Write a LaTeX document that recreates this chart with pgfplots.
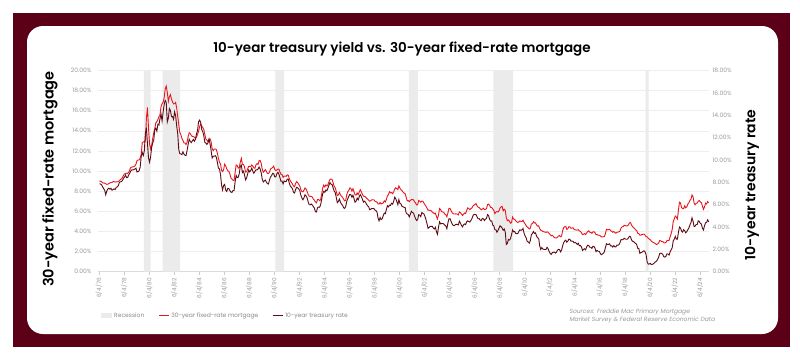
\documentclass[border=0pt]{standalone}
\usepackage{pgfplots}
\pgfplotsset{compat=1.18}
\usepackage{pgfplotstable}
\usepackage{fontspec}
\setmainfont{Poppins}
\IfFontExistsTF{Poppins SemiBold}{\newfontfamily\titlefont{Poppins SemiBold}}{\newcommand\titlefont{\bfseries}}
\IfFontExistsTF{Poppins SemiBold}{\newfontfamily\labfont{Poppins SemiBold}}{\newcommand\labfont{\bfseries}}
\newcommand\lightfont{}
\definecolor{frame}{HTML}{5C0018}
\definecolor{mred}{HTML}{E8161D}
\definecolor{tdark}{HTML}{5E0B14}
\definecolor{recg}{HTML}{EBEBEB}
\definecolor{tickg}{HTML}{999999}
\definecolor{gridg}{HTML}{EEEEEE}
\definecolor{legg}{HTML}{8A8A8A}

% monthly averages, Jun 1976 - Feb 2025: m = 30-yr mortgage, t = 10-yr treasury
\pgfplotstableread[row sep=\\]{
m t\\
9.00 7.86\\ 8.99 7.83\\ 8.93 7.77\\ 8.82 7.59\\ 8.80 7.41\\ 8.79 7.29\\ 8.72 6.87\\
8.67 7.21\\ 8.69 7.39\\ 8.75 7.46\\ 8.82 7.37\\ 8.86 7.46\\ 8.86 7.28\\ 8.94 7.33\\ 8.94 7.40\\ 8.90 7.34\\ 8.92 7.52\\ 8.92 7.58\\ 8.96 7.69\\
9.02 7.96\\ 9.15 8.03\\ 9.20 8.04\\ 9.36 8.15\\ 9.57 8.35\\ 9.71 8.46\\ 9.74 8.64\\ 9.79 8.41\\ 9.76 8.42\\ 9.86 8.64\\ 10.11 8.81\\ 10.35 9.01\\
10.39 9.10\\ 10.41 9.10\\ 10.43 9.12\\ 10.50 9.18\\ 10.69 9.25\\ 11.04 8.91\\ 11.09 8.95\\ 11.09 9.03\\ 11.30 9.33\\ 11.64 10.30\\ 12.83 10.65\\ 12.90 10.39\\
12.88 10.80\\ 13.04 12.41\\ 15.28 12.75\\ 16.32 11.47\\ 14.26 10.18\\ 12.71 9.78\\ 12.19 10.25\\ 12.56 11.10\\ 13.20 11.51\\ 13.79 11.75\\ 14.21 12.68\\ 14.79 12.84\\
14.90 12.57\\ 15.13 13.19\\ 15.40 13.12\\ 15.58 13.68\\ 16.40 14.10\\ 16.70 13.47\\ 16.83 14.28\\ 17.29 14.94\\ 18.16 15.32\\ 18.45 15.15\\ 17.83 13.39\\ 16.92 13.72\\
17.40 14.59\\ 17.60 14.43\\ 17.16 13.86\\ 16.89 13.87\\ 16.68 13.62\\ 16.70 14.30\\ 16.82 13.95\\ 16.27 13.06\\ 15.43 12.34\\ 14.61 10.91\\ 13.83 10.55\\ 13.62 10.54\\
13.25 10.46\\ 13.04 10.72\\ 12.80 10.51\\ 12.78 10.40\\ 12.63 10.38\\ 12.87 10.85\\ 13.42 11.38\\ 13.81 11.85\\ 13.73 11.65\\ 13.54 11.54\\ 13.44 11.69\\ 13.42 11.83\\
13.37 11.67\\ 13.23 11.84\\ 13.39 12.32\\ 13.65 12.63\\ 13.94 13.41\\ 14.42 13.56\\ 14.67 13.36\\ 14.47 12.72\\ 14.35 12.52\\ 14.13 12.16\\ 13.64 11.57\\ 13.18 11.50\\
13.08 11.38\\ 12.92 11.51\\ 13.17 11.86\\ 13.20 11.43\\ 12.91 10.85\\ 12.22 10.16\\ 12.03 10.31\\ 12.19 10.33\\ 12.19 10.37\\ 12.14 10.24\\ 11.78 9.78\\ 11.26 9.26\\
10.88 9.19\\ 10.71 8.70\\ 10.08 7.78\\ 9.94 7.30\\ 10.14 7.71\\ 10.68 7.80\\ 10.51 7.30\\ 10.20 7.17\\ 10.01 7.45\\ 9.98 7.43\\ 9.70 7.25\\ 9.32 7.11\\
9.20 7.08\\ 9.08 7.25\\ 9.04 7.25\\ 9.83 8.02\\ 10.60 8.61\\ 10.54 8.40\\ 10.28 8.45\\ 10.33 8.76\\ 10.89 9.42\\ 11.26 9.52\\ 10.65 8.86\\ 10.65 8.99\\
10.43 8.67\\ 9.89 8.21\\ 9.93 8.37\\ 10.20 8.72\\ 10.46 9.09\\ 10.46 8.92\\ 10.43 9.06\\ 10.60 9.26\\ 10.48 8.98\\ 10.30 8.80\\ 10.27 8.96\\ 10.61 9.11\\
10.73 9.09\\ 10.65 9.17\\ 11.03 9.36\\ 11.05 9.18\\ 10.77 8.86\\ 10.20 8.28\\ 9.88 8.02\\ 9.99 8.11\\ 10.13 8.19\\ 9.95 8.01\\ 9.77 7.87\\ 9.74 7.84\\
9.90 8.21\\ 10.20 8.47\\ 10.27 8.59\\ 10.37 8.79\\ 10.48 8.76\\ 10.16 8.48\\ 10.04 8.47\\ 10.10 8.75\\ 10.18 8.89\\ 10.18 8.72\\ 9.90 8.39\\ 9.67 8.08\\
9.64 8.09\\ 9.37 7.85\\ 9.50 8.11\\ 9.49 8.04\\ 9.47 8.07\\ 9.62 8.28\\ 9.58 8.27\\ 9.24 7.90\\ 9.01 7.65\\ 8.86 7.53\\ 8.71 7.42\\ 8.50 7.09\\
8.43 7.03\\ 8.76 7.34\\ 8.94 7.54\\ 8.85 7.48\\ 8.67 7.39\\ 8.51 7.26\\ 8.13 6.84\\ 7.98 6.59\\ 7.92 6.42\\ 8.09 6.59\\ 8.31 6.87\\ 8.22 6.77\\
7.99 6.60\\ 7.68 6.26\\ 7.50 5.98\\ 7.47 5.97\\ 7.47 6.04\\ 7.42 5.96\\ 7.21 5.81\\ 7.11 5.68\\ 6.91 5.36\\ 6.83 5.33\\ 7.16 5.72\\ 7.17 5.77\\
7.06 5.75\\ 7.15 5.97\\ 7.68 6.48\\ 8.32 6.97\\ 8.60 7.18\\ 8.40 7.10\\ 8.61 7.30\\ 8.51 7.24\\ 8.64 7.46\\ 8.93 7.74\\ 9.17 7.96\\ 9.20 7.81\\
9.15 7.78\\ 8.83 7.47\\ 8.46 7.20\\ 8.32 7.06\\ 7.96 6.63\\ 7.57 6.17\\ 7.61 6.28\\ 7.86 6.49\\ 7.64 6.20\\ 7.48 6.04\\ 7.38 5.93\\ 7.20 5.71\\
7.03 5.65\\ 7.08 5.81\\ 7.62 6.27\\ 7.93 6.51\\ 8.07 6.74\\ 8.32 6.91\\ 8.25 6.87\\ 8.00 6.64\\ 8.23 6.83\\ 7.92 6.53\\ 7.62 6.20\\ 7.60 6.30\\
7.82 6.58\\ 7.65 6.42\\ 7.90 6.69\\ 8.14 6.89\\ 7.94 6.71\\ 7.69 6.49\\ 7.50 6.22\\ 7.48 6.30\\ 7.43 6.21\\ 7.29 6.03\\ 7.21 5.88\\ 7.10 5.81\\
6.99 5.54\\ 7.04 5.57\\ 7.13 5.65\\ 7.14 5.64\\ 7.14 5.65\\ 7.00 5.50\\ 6.95 5.46\\ 6.92 5.34\\ 6.72 4.81\\ 6.71 4.53\\ 6.87 4.83\\ 6.72 4.65\\
6.79 4.72\\ 6.81 5.00\\ 7.04 5.23\\ 6.92 5.18\\ 7.15 5.54\\ 7.55 5.90\\ 7.63 5.79\\ 7.94 5.94\\ 7.82 5.92\\ 7.85 6.11\\ 7.74 6.03\\ 7.91 6.28\\
8.21 6.66\\ 8.33 6.52\\ 8.24 6.26\\ 8.15 5.99\\ 8.52 6.44\\ 8.29 6.10\\ 8.15 6.05\\ 8.03 5.83\\ 7.91 5.80\\ 7.80 5.74\\ 7.75 5.72\\ 7.38 5.24\\
7.03 5.16\\ 7.05 5.10\\ 6.95 4.89\\ 7.08 5.14\\ 7.15 5.39\\ 7.16 5.28\\ 7.13 5.24\\ 6.95 4.97\\ 6.82 4.73\\ 6.62 4.57\\ 6.66 4.65\\ 7.07 5.09\\
7.00 5.04\\ 6.89 4.91\\ 7.01 5.28\\ 6.99 5.21\\ 6.81 5.16\\ 6.65 4.93\\ 6.49 4.65\\ 6.29 4.26\\ 6.09 3.87\\ 6.11 3.94\\ 6.07 4.05\\ 6.05 4.03\\
5.92 4.05\\ 5.84 3.90\\ 5.75 3.81\\ 5.81 3.96\\ 5.48 3.57\\ 5.23 3.33\\ 5.63 3.98\\ 6.26 4.45\\ 6.15 4.27\\ 5.95 4.29\\ 5.93 4.30\\ 5.88 4.27\\
5.71 4.15\\ 5.64 4.08\\ 5.45 3.83\\ 5.83 4.35\\ 6.27 4.72\\ 6.29 4.73\\ 6.06 4.50\\ 5.87 4.28\\ 5.75 4.13\\ 5.72 4.10\\ 5.73 4.19\\ 5.75 4.23\\
5.71 4.22\\ 5.63 4.17\\ 5.93 4.50\\ 5.86 4.34\\ 5.72 4.14\\ 5.58 4.00\\ 5.70 4.18\\ 5.82 4.26\\ 5.77 4.20\\ 6.07 4.46\\ 6.33 4.54\\ 6.27 4.47\\
6.15 4.42\\ 6.25 4.57\\ 6.32 4.72\\ 6.51 4.99\\ 6.60 5.11\\ 6.68 5.11\\ 6.76 5.09\\ 6.52 4.88\\ 6.40 4.72\\ 6.36 4.73\\ 6.24 4.60\\ 6.14 4.56\\
6.22 4.76\\ 6.29 4.72\\ 6.16 4.56\\ 6.18 4.69\\ 6.26 4.75\\ 6.66 5.10\\ 6.70 5.00\\ 6.57 4.67\\ 6.38 4.52\\ 6.38 4.53\\ 6.21 4.15\\ 6.10 4.10\\
5.76 3.74\\ 5.92 3.74\\ 5.97 3.51\\ 5.92 3.68\\ 6.04 3.88\\ 6.32 4.10\\ 6.43 4.01\\ 6.48 3.89\\ 6.04 3.69\\ 6.20 3.81\\ 6.09 3.53\\ 5.33 2.42\\
5.06 2.52\\ 5.13 2.87\\ 5.00 2.82\\ 4.81 2.93\\ 4.86 3.29\\ 5.42 3.72\\ 5.22 3.56\\ 5.19 3.59\\ 5.06 3.40\\ 4.95 3.39\\ 4.88 3.40\\ 4.93 3.59\\
5.03 3.73\\ 4.99 3.69\\ 4.97 3.73\\ 5.10 3.85\\ 4.89 3.42\\ 4.74 3.20\\ 4.56 3.01\\ 4.43 2.70\\ 4.35 2.65\\ 4.23 2.54\\ 4.30 2.76\\ 4.71 3.29\\
4.76 3.39\\ 4.95 3.58\\ 4.84 3.41\\ 4.84 3.46\\ 4.64 3.17\\ 4.51 3.00\\ 4.55 3.00\\ 4.27 2.30\\ 4.11 1.98\\ 4.07 2.15\\ 3.99 2.01\\ 3.96 1.98\\
3.92 1.97\\ 3.89 1.97\\ 3.95 2.17\\ 3.91 2.05\\ 3.80 1.80\\ 3.68 1.62\\ 3.55 1.53\\ 3.60 1.68\\ 3.50 1.72\\ 3.38 1.75\\ 3.35 1.65\\ 3.35 1.72\\
3.41 1.91\\ 3.53 1.98\\ 3.57 1.96\\ 3.45 1.76\\ 3.54 1.93\\ 4.07 2.30\\ 4.37 2.58\\ 4.46 2.74\\ 4.49 2.81\\ 4.19 2.62\\ 4.26 2.72\\ 4.46 2.90\\
4.43 2.86\\ 4.30 2.71\\ 4.34 2.72\\ 4.34 2.71\\ 4.19 2.56\\ 4.16 2.60\\ 4.13 2.54\\ 4.12 2.42\\ 4.16 2.53\\ 4.04 2.30\\ 4.00 2.33\\ 3.86 2.21\\
3.67 1.88\\ 3.71 1.98\\ 3.77 2.04\\ 3.67 1.94\\ 3.84 2.20\\ 3.98 2.36\\ 4.05 2.32\\ 3.91 2.17\\ 3.89 2.17\\ 3.80 2.07\\ 3.94 2.26\\ 3.96 2.24\\
3.87 2.09\\ 3.66 1.78\\ 3.69 1.89\\ 3.61 1.81\\ 3.60 1.81\\ 3.57 1.64\\ 3.44 1.50\\ 3.44 1.56\\ 3.46 1.63\\ 3.47 1.76\\ 3.77 2.14\\ 4.20 2.49\\
4.15 2.43\\ 4.17 2.42\\ 4.20 2.48\\ 4.05 2.30\\ 4.01 2.30\\ 3.90 2.19\\ 3.97 2.32\\ 3.88 2.21\\ 3.81 2.20\\ 3.90 2.36\\ 3.92 2.35\\ 3.95 2.40\\
4.03 2.58\\ 4.33 2.86\\ 4.44 2.84\\ 4.47 2.87\\ 4.59 2.98\\ 4.57 2.91\\ 4.53 2.89\\ 4.55 2.89\\ 4.63 3.00\\ 4.83 3.15\\ 4.87 3.12\\ 4.64 2.83\\
4.46 2.71\\ 4.37 2.68\\ 4.27 2.57\\ 4.14 2.53\\ 4.07 2.40\\ 3.80 2.07\\ 3.77 2.06\\ 3.62 1.63\\ 3.61 1.70\\ 3.69 1.71\\ 3.70 1.81\\ 3.72 1.86\\
3.62 1.76\\ 3.47 1.50\\ 3.45 0.87\\ 3.31 0.66\\ 3.23 0.67\\ 3.16 0.73\\ 3.02 0.62\\ 2.94 0.65\\ 2.89 0.68\\ 2.83 0.79\\ 2.77 0.87\\ 2.68 0.93\\
2.74 1.08\\ 2.81 1.26\\ 3.08 1.61\\ 3.06 1.64\\ 2.96 1.62\\ 2.98 1.52\\ 2.87 1.32\\ 2.84 1.28\\ 2.90 1.37\\ 3.07 1.58\\ 3.07 1.56\\ 3.10 1.47\\
3.45 1.76\\ 3.76 1.93\\ 4.17 2.13\\ 4.98 2.75\\ 5.23 2.90\\ 5.52 3.14\\ 5.41 2.90\\ 5.22 2.90\\ 6.11 3.52\\ 6.90 3.98\\ 6.81 3.89\\ 6.36 3.62\\
6.27 3.53\\ 6.26 3.75\\ 6.54 3.66\\ 6.34 3.46\\ 6.43 3.57\\ 6.71 3.75\\ 6.84 3.90\\ 7.07 4.17\\ 7.20 4.38\\ 7.62 4.80\\ 7.44 4.50\\ 6.82 4.02\\
6.64 4.06\\ 6.78 4.21\\ 6.82 4.21\\ 7.00 4.54\\ 7.06 4.48\\ 6.92 4.31\\ 6.85 4.25\\ 6.50 3.87\\ 6.18 3.72\\ 6.43 4.10\\ 6.81 4.36\\ 6.72 4.39\\
6.96 4.63\\ 6.84 4.45\\
}\data

\pgfplotsset{
  common/.style={
    at={(98pt,88.5pt)}, anchor=south west, width=611pt, height=201pt, scale only axis,
    xmin=1976.34, xmax=2025.15, ymin=0,
    /pgf/number format/assume math mode=true,
    yticklabel={\pgfmathprintnumber[fixed,fixed zerofill,precision=2]{\tick}\%},
    y tick label style={font=\lightfont\fontsize{6}{7}\selectfont, text=tickg},
    ytick style={draw=none},
    y axis line style={draw=none},
  }
}

\begin{document}
\begin{tikzpicture}
\useasboundingbox (0pt,0pt) rectangle (800pt,360pt);
\fill[white] (0pt,0pt) rectangle (800pt,360pt);
\fill[frame] (13pt,13pt) rectangle (790pt,347pt);
\fill[white, rounded corners=16pt] (27pt,26pt) rectangle (778pt,334pt);

\node[font=\titlefont\fontsize{13.5}{16}\selectfont] at (402pt,311pt) {10-year treasury yield vs. 30-year fixed-rate mortgage};
\node[rotate=90, font=\labfont\fontsize{14.5}{16}\selectfont] at (50pt,181pt) {30-year fixed-rate mortgage};
\node[rotate=90, font=\labfont\fontsize{14}{16}\selectfont] at (752pt,175pt) {10-year treasury rate};

\begin{axis}[common, ymax=20,
  axis x line*=bottom, axis y line*=left,
  x axis line style={color=gray!30},
  ytick={0,2,...,20},
  ymajorgrids, grid style={color=gridg, line width=0.6pt},
  xtick={1976.42,1978.42,...,2024.42},
  xticklabels={6/4/76,6/4/78,6/4/80,6/4/82,6/4/84,6/4/86,6/4/88,6/4/90,6/4/92,6/4/94,6/4/96,6/4/98,6/4/00,6/4/02,6/4/04,6/4/06,6/4/08,6/4/10,6/4/12,6/4/14,6/4/16,6/4/18,6/4/20,6/4/22,6/4/24},
  xtick style={color=gray!40}, tick align=outside, major tick length=3pt,
  x tick label style={rotate=90, anchor=east, font=\lightfont\fontsize{5.8}{7}\selectfont, text=tickg},
  legend style={at={(0,-0.221)}, anchor=west, draw=none, fill=none,
    font=\lightfont\fontsize{6}{7}\selectfont, text=legg, legend columns=3,
    /tikz/every even column/.append style={column sep=12pt}},
  legend image code/.code={\draw[#1] (0pt,0pt) -- (10pt,0pt);},
]
\addplot[fill=recg, draw=none, const plot,
  legend image code/.code={\fill[recg] (0pt,-2.5pt) rectangle (11pt,2.5pt);}]
  coordinates {(1976.34,0) (1980.0,20) (1980.55,0) (1981.5,20) (1982.9,0) (1990.5,20) (1991.2,0) (2001.17,20) (2001.9,0) (2007.92,20) (2009.5,0) (2020.08,20) (2020.33,0) (2025.15,0)} \closedcycle;
\addlegendentry{Recession}
\addplot[mred, line width=0.9pt] table[x expr=1976.4583+\coordindex/12, y=m] {\data};
\addlegendentry{30-year fixed-rate mortgage}
\addlegendimage{tdark, line width=0.9pt}
\addlegendentry{10-year treasury rate}
\end{axis}

\begin{axis}[common, ymax=18,
  hide x axis, axis y line*=right,
  ytick={0,2,...,18},
]
\addplot[tdark, line width=0.9pt] table[x expr=1976.4583+\coordindex/12, y=t] {\data};
\end{axis}

\node[anchor=north west, align=left, font=\lightfont\itshape\fontsize{6}{8.2}\selectfont, text=tickg] at (566pt,55pt) {Sources: Freddie Mac Primary Mortgage\\Market Survey \& Federal Reserve Economic Data};
\end{tikzpicture}
\end{document}
